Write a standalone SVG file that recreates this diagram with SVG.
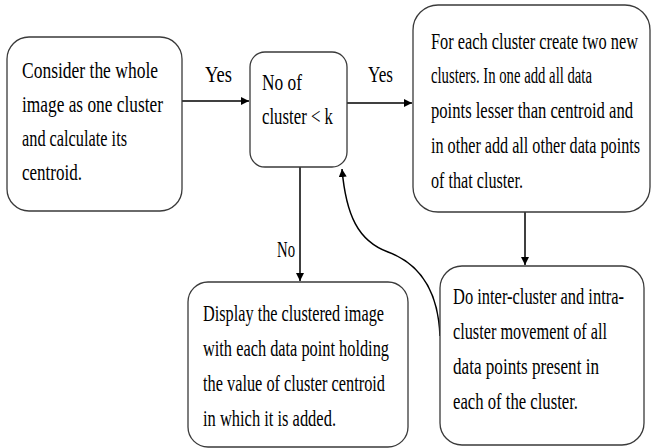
<svg xmlns="http://www.w3.org/2000/svg" width="651" height="448" viewBox="0 0 651 448">
<defs>
<style>
.box{fill:#fff;stroke:#3a3a3a;stroke-width:1.3}
.t{font-family:'Liberation Serif','DejaVu Serif','Times New Roman',serif;font-size:23.5px;fill:#000}
.c{fill:none;stroke:#000;stroke-width:1.5}
</style>
<marker id="ah" viewBox="0 0 10 10" refX="10" refY="5" markerWidth="8" markerHeight="8" markerUnits="userSpaceOnUse" orient="auto">
<path d="M0,0 L10,5 L0,10 z" fill="#000"/>
</marker>
</defs>
<rect width="651" height="448" fill="#fff"/>
<g id="connectors">
<line class="c" x1="182" y1="101" x2="249" y2="101" marker-end="url(#ah)"/>
<line class="c" x1="347" y1="103" x2="412" y2="103" marker-end="url(#ah)"/>
<line class="c" x1="300" y1="167" x2="300" y2="281" marker-end="url(#ah)"/>
<line class="c" x1="525" y1="212" x2="525" y2="265" marker-end="url(#ah)"/>
<path class="c" d="M440,336 C438,285 415,262 388,252 C358,241 346,215 342,169" marker-end="url(#ah)"/>
<text class="t" x="205" y="82" textLength="27" lengthAdjust="spacingAndGlyphs">Yes</text>
<text class="t" x="368" y="82" textLength="25" lengthAdjust="spacingAndGlyphs">Yes</text>
<text class="t" x="277" y="257" textLength="18" lengthAdjust="spacingAndGlyphs">No</text>
</g>
<g id="n1">
<rect class="box" x="7" y="37" width="175" height="174" rx="22"/>
<text class="t" x="22" y="78" textLength="136" lengthAdjust="spacingAndGlyphs">Consider the whole</text>
<text class="t" x="22" y="112" textLength="141" lengthAdjust="spacingAndGlyphs">image as one cluster</text>
<text class="t" x="22" y="146" textLength="105" lengthAdjust="spacingAndGlyphs">and calculate its</text>
<text class="t" x="22" y="180" textLength="60" lengthAdjust="spacingAndGlyphs">centroid.</text>
</g>
<g id="n2">
<rect class="box" x="250" y="52" width="97" height="115" rx="15"/>
<text class="t" x="262" y="90" textLength="40" lengthAdjust="spacingAndGlyphs">No of</text>
<text class="t" x="262" y="124" textLength="71" lengthAdjust="spacingAndGlyphs">cluster &lt; k</text>
</g>
<g id="n3">
<rect class="box" x="413" y="5" width="237" height="207" rx="25"/>
<text class="t" x="431" y="49" textLength="207" lengthAdjust="spacingAndGlyphs">For each cluster create two new</text>
<text class="t" x="431" y="83" textLength="161" lengthAdjust="spacingAndGlyphs">clusters.  In one add all data</text>
<text class="t" x="431" y="118" textLength="202" lengthAdjust="spacingAndGlyphs">points lesser than centroid and</text>
<text class="t" x="431" y="153" textLength="209" lengthAdjust="spacingAndGlyphs">in other add all other data points</text>
<text class="t" x="431" y="188" textLength="92" lengthAdjust="spacingAndGlyphs">of that cluster.</text>
</g>
<g id="n4">
<rect class="box" x="188" y="282" width="220" height="165" rx="20"/>
<text class="t" x="203" y="321" textLength="181" lengthAdjust="spacingAndGlyphs">Display the clustered image</text>
<text class="t" x="203" y="356" textLength="186" lengthAdjust="spacingAndGlyphs">with each data point holding</text>
<text class="t" x="203" y="391" textLength="182" lengthAdjust="spacingAndGlyphs">the value of cluster centroid</text>
<text class="t" x="203" y="426" textLength="133" lengthAdjust="spacingAndGlyphs">in which it is added.</text>
</g>
<g id="n5">
<rect class="box" x="440" y="266" width="204" height="179" rx="22"/>
<text class="t" x="453" y="304" textLength="171" lengthAdjust="spacingAndGlyphs">Do inter-cluster and intra-</text>
<text class="t" x="453" y="339" textLength="154" lengthAdjust="spacingAndGlyphs">cluster movement of all</text>
<text class="t" x="453" y="374" textLength="146" lengthAdjust="spacingAndGlyphs">data points present in</text>
<text class="t" x="453" y="409" textLength="125" lengthAdjust="spacingAndGlyphs">each of the cluster.</text>
</g>
</svg>
